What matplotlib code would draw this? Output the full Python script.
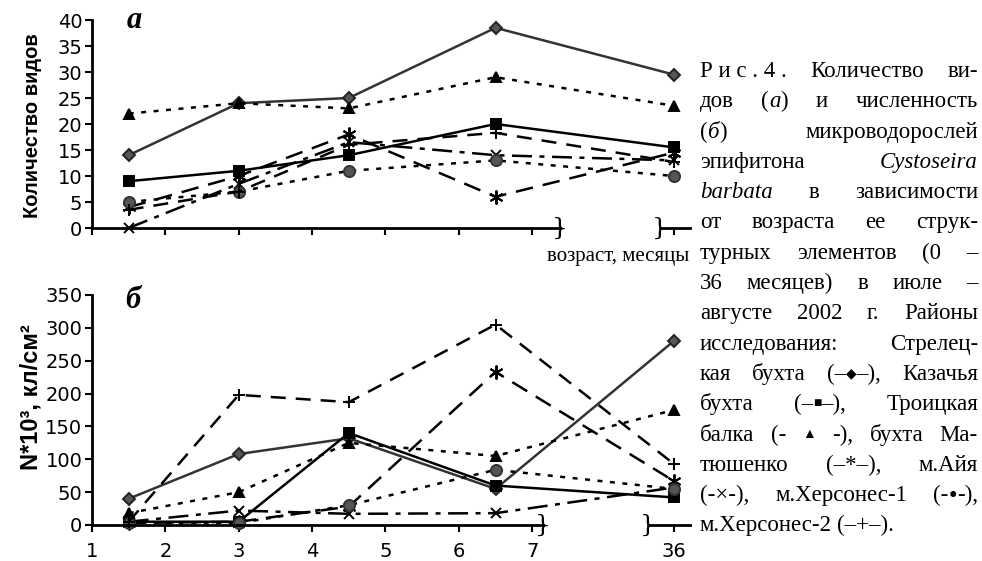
import matplotlib
matplotlib.use('Agg')
import matplotlib.pyplot as plt

plt.rcParams['font.family'] = ['Liberation Sans', 'DejaVu Sans']

# age of structural elements, months (36 sits behind the axis break)
age_months = [1.5, 3, 4.5, 6.5, 36]
tick_months = [1, 2, 3, 4, 5, 6, 7, 36]

def axis_pos(m):
    return m if m <= 7 else 8.93

sites = ['Стрелецкая бухта', 'Казачья бухта', 'Троицкая балка', 'бухта Матюшенко',
         'м.Айя', 'м.Херсонес-1', 'м.Херсонес-2']

# panel a - number of species
species = {
    'Стрелецкая бухта': [14, 24, 25, 38.5, 29.5],
    'Казачья бухта':    [9, 11, 14, 20, 15.5],
    'Троицкая балка':   [22, 24, 23, 29, 23.5],
    'бухта Матюшенко':  [4, 10, 18, 6, 14.5],
    'м.Айя':            [0, 8.5, 16.5, 14, 13],
    'м.Херсонес-1':     [5, 7, 11, 13, 10],
    'м.Херсонес-2':     [3.5, 7, 16, 18.3, 12.7],
}

# panel b - abundance, N*10^3 cells/cm2
abundance = {
    'Стрелецкая бухта': [40, 108, 132, 55, 280],
    'Казачья бухта':    [5, 5, 140, 60, 42],
    'Троицкая балка':   [18, 50, 125, 105, 175],
    'бухта Матюшенко':  [3, 5, 28, 233, 67],
    'м.Айя':            [5, 22, 17, 18, 57],
    'м.Херсонес-1':     [3, 3, 30, 84, 55],
    'м.Херсонес-2':     [5, 198, 187, 305, 93],
}

styles = {
    'Стрелецкая бухта': dict(color='#333333', ls='-', marker='D', ms=6, mfc='#555555', mec='#222222'),
    'Казачья бухта':    dict(color='black', ls='-', marker='s', ms=7, mfc='black', mec='black'),
    'Троицкая балка':   dict(color='black', ls=(0, (2, 3)), marker='^', ms=7, mfc='black', mec='black'),
    'бухта Матюшенко':  dict(color='black', ls=(0, (7, 4)), marker=(6, 2, 0), ms=10, mec='black'),
    'м.Айя':            dict(color='black', ls=(0, (8, 3, 2, 3)), marker='x', ms=7, mec='black'),
    'м.Херсонес-1':     dict(color='black', ls=(0, (2, 3)), marker='o', ms=8, mfc='#555555', mec='#333333'),
    'м.Херсонес-2':     dict(color='black', ls=(0, (6, 4)), marker='+', ms=9, mec='black'),
}

W, H = 982, 561
fig = plt.figure(figsize=(W / 100, H / 100), dpi=100)

def px_axes(x0, y0, x1, y1):
    return fig.add_axes([x0 / W, 1 - y1 / H, (x1 - x0) / W, (y1 - y0) / H])

ax_a = px_axes(92, 20, 690, 228)
ax_b = px_axes(92, 295, 690, 525)

xs = [axis_pos(m) for m in age_months]
panels = [(ax_a, species, 40, (7.38, 8.74)), (ax_b, abundance, 350, (7.15, 8.58))]
for ax, data, ymax, breaks in panels:
    for s in sites:
        ax.plot(xs, data[s], lw=1.8, mew=1.4, clip_on=False, **styles[s])
    ax.set_xlim(1, 9.15)
    ax.set_ylim(0, ymax)
    for side in ['top', 'right', 'bottom']:
        ax.spines[side].set_visible(False)
    ax.spines['left'].set_linewidth(2)
    ax.tick_params(direction='out', length=5, width=1.5, pad=2)
    ax.tick_params(axis='y', labelsize=14, labelfontfamily='DejaVu Sans')
    ax.set_xticks([axis_pos(m) for m in tick_months])
    # broken x axis
    tr = ax.get_xaxis_transform()
    ax.plot([1, breaks[0]], [0, 0], color='black', lw=2, transform=tr, clip_on=False)
    ax.plot([breaks[1], 9.15], [0, 0], color='black', lw=2, transform=tr, clip_on=False)
    for xb in breaks:
        ax.text(xb, 0, '}', transform=tr, fontsize=18, ha='center', va='center',
                family='DejaVu Serif', fontweight='light')

ax_a.set_yticks(range(0, 41, 5))
ax_a.set_xticklabels([])
ax_b.set_yticks(range(0, 351, 50))
ax_b.set_xticklabels([str(m) for m in tick_months])
ax_b.tick_params(axis='x', pad=7, labelsize=14, labelfontfamily='DejaVu Sans')

fig.text(33 / W, 1 - 126 / H, 'Количество видов', rotation=90, ha='center', va='center',
         fontsize=14.5, fontweight='bold')
fig.text(31 / W, 1 - 397 / H, 'N*10³, кл/см²', rotation=90, ha='center', va='center',
         fontsize=17, fontweight='bold')
fig.text(134 / W, 1 - 21 / H, 'а', ha='center', va='center', fontsize=22,
         family='Liberation Serif', style='italic', fontweight='bold')
fig.text(133 / W, 1 - 300 / H, 'б', ha='center', va='center', fontsize=22,
         family='Liberation Serif', style='italic', fontweight='bold')
fig.text(689 / W, 1 - 257 / H, 'возраст, месяцы', ha='right', va='center', fontsize=15,
         family='Liberation Serif')

# caption, justified; words between _ _ are italic
caption = [
    'Р\u00a0и\u00a0с\u00a0.\u00a04\u00a0. Количество ви-',
    'дов (_а_) и численность',
    '(_б_) микроводорослей',
    'эпифитона _Cystoseira_',
    '_barbata_ в зависимости',
    'от возраста ее струк-',
    'турных элементов (0 –',
    '36 месяцев) в июле –',
    'августе 2002 г. Районы',
    'исследования: Стрелец-',
    'кая бухта (–◆–), Казачья',
    'бухта (–■–), Троицкая',
    'балка (- ▲ -), бухта Ма-',
    'тюшенко (–*–), м.Айя',
    '(-×-), м.Херсонес-1 (-●-),',
    'м.Херсонес-2 (–+–).',
]
symbols = '◆■▲●'
cap_font = dict(family=['Liberation Serif', 'DejaVu Serif'])
cap_size, sym_size = 16.5, 10
x_left, x_right = 700, 978
y_first, line_step = 77, 30.3
renderer = fig.canvas.get_renderer()

def split_pieces(word):
    out = []
    for k, p in enumerate(word.split('_')):
        italic = k % 2 == 1
        buf = ''
        for ch in p:
            if ch in symbols:
                if buf:
                    out.append((buf, italic, cap_size))
                    buf = ''
                out.append((ch, italic, sym_size))
            else:
                buf += ch
        if buf:
            out.append((buf, italic, cap_size))
    return out

for i, line in enumerate(caption):
    y = 1 - (y_first + i * line_step) / H
    words = []
    for w in line.split(' '):
        pieces = split_pieces(w)
        widths = []
        for p, it, fs in pieces:
            t = fig.text(0, 0, p, style='italic' if it else 'normal', fontsize=fs, **cap_font)
            widths.append(t.get_window_extent(renderer).width)
            t.remove()
        words.append((pieces, widths))
    total = sum(sum(ws) for _, ws in words)
    if i < len(caption) - 1 and len(words) > 1:
        gap = (x_right - x_left - total) / (len(words) - 1)
    else:
        gap = 5.5
    x = x_left
    for pieces, widths in words:
        for (p, it, fs), wd in zip(pieces, widths):
            yy = y + (3 / H if fs == sym_size else 0)
            fig.text(x / W, yy, p, style='italic' if it else 'normal', va='baseline',
                     ha='left', fontsize=fs, **cap_font)
            x += wd
        x += gap

fig.savefig('out.png', dpi=100)
